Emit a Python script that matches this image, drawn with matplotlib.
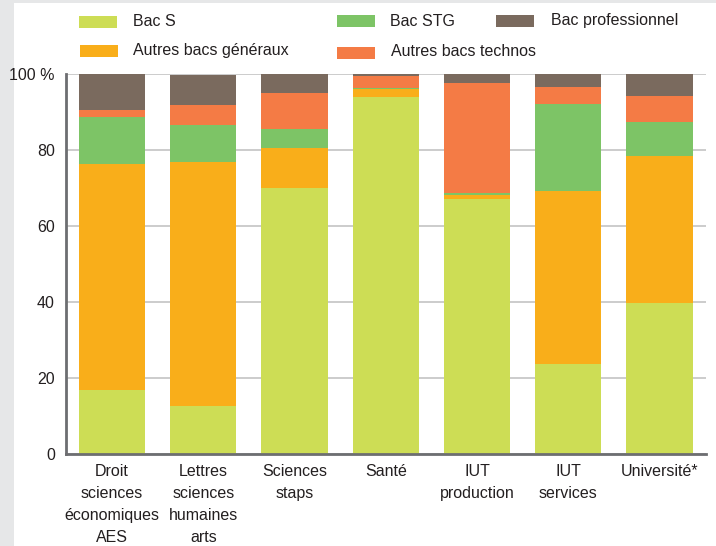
import matplotlib
matplotlib.use("Agg")
import matplotlib.pyplot as plt
from matplotlib.patches import Rectangle
import numpy as np

plt.rcParams['font.family'] = ['Liberation Sans Narrow', 'Liberation Sans', 'DejaVu Sans']

categories = ["Droit\nsciences\néconomiques\nAES",
              "Lettres\nsciences\nhumaines\narts",
              "Sciences\nstaps",
              "Santé",
              "IUT\nproduction",
              "IUT\nservices",
              "Université*"]

# share of each bac type (%), bottom to top
bac_s = [16.9, 12.6, 70.0, 93.9, 67.1, 23.8, 39.7]
autres_generaux = [59.5, 64.3, 10.6, 2.2, 1.1, 45.4, 38.7]
bac_stg = [12.3, 9.7, 4.9, 0.3, 0.5, 23.0, 9.0]
autres_technos = [1.8, 5.2, 9.6, 3.1, 28.9, 4.4, 6.8]
bac_pro = [9.5, 7.9, 4.9, 0.5, 2.4, 3.4, 5.8]

series = [("Bac S", bac_s, "#cddd55"),
          ("Autres bacs généraux", autres_generaux, "#f9ae1a"),
          ("Bac STG", bac_stg, "#7dc466"),
          ("Autres bacs technos", autres_technos, "#f47b45"),
          ("Bac professionnel", bac_pro, "#7a6a5e")]

W, H = 716, 546
fig = plt.figure(figsize=(W / 100, H / 100), dpi=100, facecolor="#e6e7e8")
fig.patches.append(Rectangle((14 / W, 0), 1, 1 - 3 / H, transform=fig.transFigure,
                             facecolor="white", edgecolor="none", zorder=-5))

ax = fig.add_axes([66 / W, 1 - 454 / H, (706 - 66) / W, (454 - 74) / H])
ax.set_facecolor("none")

x = np.arange(len(categories))
bottom = np.zeros(len(categories))
for name, vals, col in series:
    ax.bar(x, vals, width=0.725, bottom=bottom, color=col, zorder=3)
    bottom += np.array(vals)

ax.set_xlim(-0.505, 6.51)
ax.set_ylim(0, 100)
ax.set_yticks([0, 20, 40, 60, 80, 100])
ax.set_yticklabels(["0", "20", "40", "60", "80", "100 %"])
ax.set_xticks(x)
ax.set_xticklabels(categories, linespacing=1.6)
ax.tick_params(axis="both", length=0, labelsize=11.5, colors="#231f20")
ax.tick_params(axis="y", pad=8)
ax.tick_params(axis="x", pad=7)
ax.grid(axis="y", color="#c4c4c4", linewidth=1.2, zorder=0)
for s in ["top", "right"]:
    ax.spines[s].set_visible(False)
for s in ["left", "bottom"]:
    ax.spines[s].set_color("#6d6e71")
    ax.spines[s].set_linewidth(2)
    ax.spines[s].set_zorder(4)

# legend drawn by hand (irregular layout)
legend_pos = {
    "Bac S": (79, 16, 133, 21),
    "Autres bacs généraux": (80, 45, 133, 51),
    "Bac STG": (337, 15, 390, 21),
    "Autres bacs technos": (337, 47, 391, 51),
    "Bac professionnel": (496, 15, 551, 21),
}
for name, vals, col in series:
    px, py, tx, ty = legend_pos[name]
    fig.patches.append(Rectangle((px / W, 1 - (py + 12) / H), 38 / W, 12 / H,
                                 transform=fig.transFigure, facecolor=col,
                                 edgecolor="none", zorder=2))
    fig.text(tx / W, 1 - ty / H, name, fontsize=11.5, color="#231f20",
             va="center", ha="left")

fig.savefig("out.png", dpi=100, facecolor=fig.get_facecolor())
